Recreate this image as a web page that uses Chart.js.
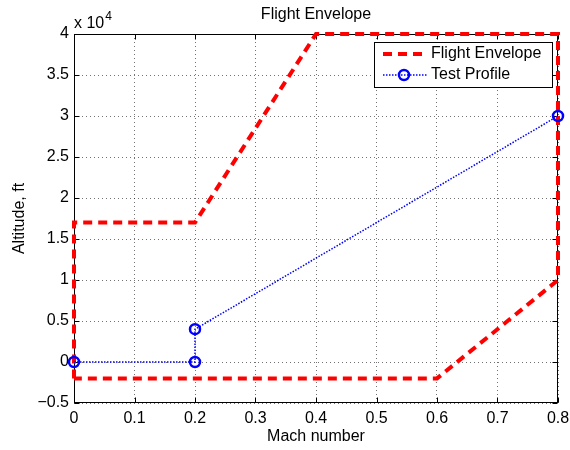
<!DOCTYPE html>
<html><head><meta charset="utf-8">
<script src="https://cdn.jsdelivr.net/npm/chart.js@4/dist/chart.umd.min.js"></script>
<style>html,body{margin:0;padding:0;background:#fff}#wrap{width:570px;height:450px}</style>
</head><body><div id="wrap"><canvas id="c" width="570" height="450"></canvas></div>
<script>
// ---- data ----
const envMach = [0, 0, 0.2, 0.4, 0.8, 0.8, 0.6, 0];
const envAlt  = [-2000, 17000, 17000, 40000, 40000, 10000, -2000, -2000];
const testMach = [0, 0.2, 0.2, 0.8];
const testAlt  = [0, 0, 4000, 30000];
const xTickValues = [0, 0.1, 0.2, 0.3, 0.4, 0.5, 0.6, 0.7, 0.8];
const xTickLabels = ['0', '0.1', '0.2', '0.3', '0.4', '0.5', '0.6', '0.7', '0.8'];
const yTickValues = [-5000, 0, 5000, 10000, 15000, 20000, 25000, 30000, 35000, 40000];
const yTickLabels = ['\u22120.5', '0', '0.5', '1', '1.5', '2', '2.5', '3', '3.5', '4'];
const seriesNames = ['Flight Envelope', 'Test Profile'];

const FONT = '"Liberation Sans", Arial, Helvetica, sans-serif';
Chart.defaults.font.family = FONT;
Chart.defaults.font.size = 16;
Chart.defaults.color = '#000';

const RED = 'rgb(255,0,0)', BLUE = 'rgb(0,0,255)';

const framePlugin = {
  id: 'frame',
  beforeDatasetsDraw(chart) {
    const {ctx, chartArea: a, scales: {x, y}} = chart;
    ctx.save();
    ctx.strokeStyle = '#000';
    ctx.lineWidth = 1;
    const L = Math.round(a.left) + 0.5, R = Math.round(a.right) - 0.5;
    const T = Math.round(a.top) + 0.5, B = Math.round(a.bottom) - 0.5;
    ctx.strokeRect(L, T, R - L, B - T);
    ctx.beginPath();
    x.ticks.forEach(t => {
      const px = Math.round(x.getPixelForValue(t.value)) + 0.5;
      ctx.moveTo(px, B); ctx.lineTo(px, B - 5);
      ctx.moveTo(px, T); ctx.lineTo(px, T + 5);
    });
    y.ticks.forEach(t => {
      const py = Math.round(y.getPixelForValue(t.value)) + 0.5;
      ctx.moveTo(L, py); ctx.lineTo(L + 5, py);
      ctx.moveTo(R, py); ctx.lineTo(R - 5, py);
    });
    ctx.stroke();
    ctx.restore();
  },
  afterDraw(chart) {
    const {ctx, chartArea: a} = chart;
    ctx.save();
    // exponent label
    ctx.fillStyle = '#000';
    ctx.textBaseline = 'alphabetic';
    ctx.textAlign = 'left';
    ctx.font = '16px ' + FONT;
    ctx.fillText('x 10', a.left, a.top - 6);
    const w = ctx.measureText('x 10').width;
    ctx.font = '12px ' + FONT;
    ctx.fillText('4', a.left + w + 1, a.top - 14);
    // legend
    const bx = Math.round(a.right) - 184, by = Math.round(a.top) + 8, bw = 178, bh = 45;
    ctx.fillStyle = '#fff';
    ctx.fillRect(bx, by, bw, bh);
    ctx.strokeStyle = '#000';
    ctx.lineWidth = 1;
    ctx.strokeRect(bx + 0.5, by + 0.5, bw, bh);
    const r1 = by + 12, r2 = by + 33;
    // row 1
    ctx.strokeStyle = RED; ctx.lineWidth = 4; ctx.setLineDash([9, 6]);
    ctx.beginPath(); ctx.moveTo(bx + 9, r1); ctx.lineTo(bx + 54, r1); ctx.stroke();
    // row 2
    ctx.strokeStyle = BLUE; ctx.lineWidth = 1.5; ctx.setLineDash([1.5, 1.5]);
    ctx.beginPath(); ctx.moveTo(bx + 9, r2); ctx.lineTo(bx + 54, r2); ctx.stroke();
    ctx.setLineDash([]); ctx.lineWidth = 2.5;
    ctx.beginPath(); ctx.arc(bx + 30, r2, 5, 0, Math.PI * 2); ctx.stroke();
    ctx.fillStyle = '#000';
    ctx.font = '16px ' + FONT;
    ctx.textBaseline = 'middle';
    ctx.fillText(seriesNames[0], bx + 57, r1);
    ctx.fillText(seriesNames[1], bx + 57, r2);
    ctx.restore();
  }
};

const gridCfg = {
  color: 'rgba(0,0,0,0.55)',
  lineWidth: 1,
  drawTicks: false,
  tickLength: 0
};

new Chart(document.getElementById('c'), {
  type: 'scatter',
  data: {
    datasets: [
      {
        label: seriesNames[0],
        data: envMach.map((m, i) => ({x: m, y: envAlt[i]})),
        showLine: true,
        borderColor: RED,
        backgroundColor: RED,
        borderWidth: 4,
        borderDash: [9, 6],
        pointRadius: 0,
        pointHoverRadius: 0,
        tension: 0,
        fill: false,
        clip: false,
        order: 1
      },
      {
        label: seriesNames[1],
        data: testMach.map((m, i) => ({x: m, y: testAlt[i]})),
        showLine: true,
        borderColor: BLUE,
        backgroundColor: 'rgba(0,0,0,0)',
        borderWidth: 1.5,
        borderDash: [1.5, 1.5],
        pointRadius: 5,
        pointBorderWidth: 2.5,
        pointBorderColor: BLUE,
        pointBackgroundColor: 'rgba(0,0,0,0)',
        tension: 0,
        fill: false,
        clip: false,
        order: 0
      }
    ]
  },
  options: {
    responsive: false,
    animation: false,
    devicePixelRatio: 1,
    layout: {padding: {left: 0, right: 12, top: 0, bottom: 0}},
    plugins: {
      legend: {display: false},
      tooltip: {enabled: false},
      title: {
        display: true,
        text: 'Flight Envelope',
        fullSize: false,
        color: '#000',
        font: {size: 16, weight: 'normal'},
        padding: {top: 5.4, bottom: 9.4}
      }
    },
    scales: {
      x: {
        type: 'linear',
        min: 0, max: 0.8,
        afterBuildTicks: s => { s.ticks = xTickValues.map(v => ({value: v})); },
        ticks: {
          padding: 6,
          maxRotation: 0,
          autoSkip: false,
          callback: (v, i) => xTickLabels[i]
        },
        grid: Object.assign({}, gridCfg),
        border: {display: false, dash: [1, 3]},
        title: {display: true, text: 'Mach number', font: {size: 16}, padding: {top: 0, bottom: 3.4}},
        afterFit: s => { s.height = 47; s.paddingLeft = 0; s.paddingRight = 6; }
      },
      y: {
        type: 'linear',
        min: -5000, max: 40000,
        afterBuildTicks: s => { s.ticks = yTickValues.map(v => ({value: v})); },
        ticks: {
          padding: 5,
          autoSkip: false,
          callback: (v, i) => yTickLabels[i]
        },
        grid: Object.assign({}, gridCfg),
        border: {display: false, dash: [1, 3]},
        title: {display: true, text: 'Altitude, ft', font: {size: 16}, padding: {top: 10.4, bottom: 0}},
        afterFit: s => { s.width = 74; s.paddingTop = 0; s.paddingBottom = 0; }
      }
    }
  },
  plugins: [framePlugin]
});
</script>
</body></html>
